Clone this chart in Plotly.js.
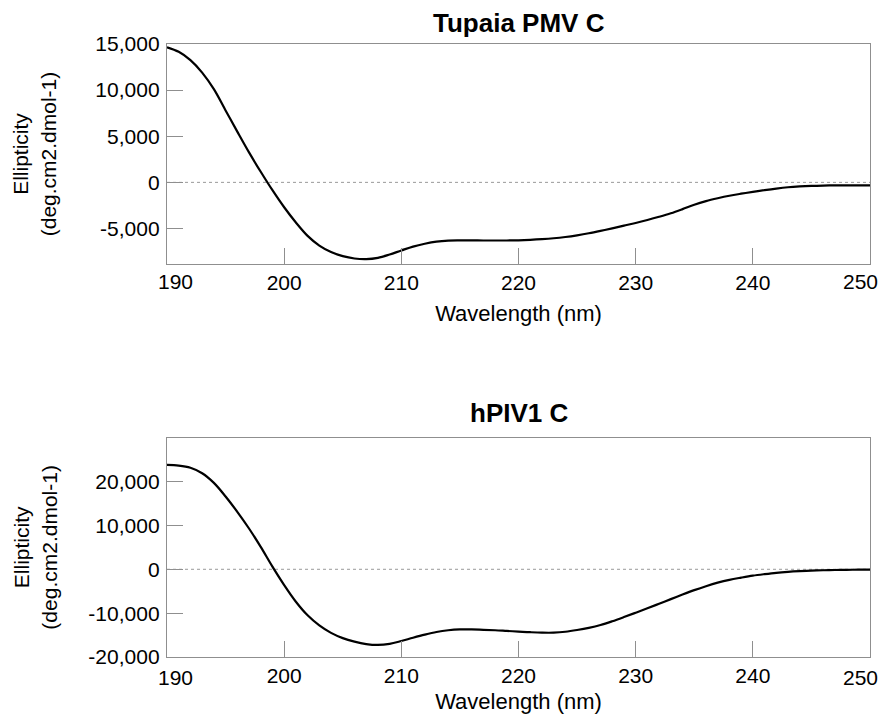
<!DOCTYPE html>
<html>
<head>
<meta charset="utf-8">
<script src="https://cdn.plot.ly/plotly-3.0.1.min.js"></script>
<style>html,body{margin:0;padding:0;background:#fff}#chart{width:883px;height:714px}</style>
</head>
<body>
<div id="chart"></div>
<script>
// Wavelength (nm)
const wavelength = [190,191,192,193,194,195,196,197,198,199,200,201,202,203,204,205,206,207,208,209,210,211,212,213,214,215,216,217,218,219,220,221,222,223,224,225,226,227,228,229,230,231,232,233,234,235,236,237,238,239,240,241,242,243,244,245,246,247,248,249,250];

// Tupaia PMV C ellipticity
const tupaiaValues = [14650,14150,13250,11900,10100,7800,5500,3250,1150,-850,-2700,-4350,-5800,-6850,-7550,-8000,-8250,-8320,-8180,-7820,-7380,-6960,-6650,-6420,-6310,-6290,-6290,-6300,-6300,-6300,-6280,-6230,-6160,-6060,-5920,-5740,-5520,-5260,-4980,-4690,-4400,-4080,-3730,-3350,-2900,-2420,-2030,-1720,-1450,-1230,-1030,-840,-670,-530,-440,-380,-345,-330,-330,-330,-330];

// hPIV1 C ellipticity
const hpivValues = [23800,23650,23150,21900,19700,16600,13100,9300,5100,600,-3600,-7400,-10500,-12800,-14500,-15700,-16500,-17050,-17250,-17000,-16350,-15600,-14900,-14300,-13900,-13700,-13700,-13800,-13900,-14050,-14200,-14350,-14450,-14450,-14250,-13850,-13350,-12700,-11850,-10900,-9900,-8900,-7850,-6800,-5750,-4750,-3850,-3050,-2400,-1900,-1450,-1100,-800,-580,-420,-300,-220,-160,-120,-90,-70];

const xTickVals = [190,200,210,220,230,240,250];
const xTickText = ['190','200','210','220','230','240','250'];
const topYTickVals = [-5000,0,5000,10000,15000];
const topYTickText = ['-5,000','0','5,000','10,000','15,000'];
const botYTickVals = [-20000,-10000,0,10000,20000];
const botYTickText = ['-20,000','-10,000','0','10,000','20,000'];

const titles = ['Tupaia PMV C','hPIV1 C'];
const xTitle = 'Wavelength (nm)';
const yTitle = 'Ellipticity<br>(deg.cm2.dmol-1)';

const FONT = 'Liberation Sans, Arial, sans-serif';
const GRAY = '#8f8f8f';
const TICKFONT = {family:FONT, size:21, color:'#000'};

const traces = [
  {x: wavelength, y: tupaiaValues, xaxis:'x', yaxis:'y', type:'scatter', mode:'lines',
   line:{color:'#000', width:2.2, shape:'spline', smoothing:1}, hoverinfo:'skip'},
  {x: wavelength, y: hpivValues, xaxis:'x2', yaxis:'y2', type:'scatter', mode:'lines',
   line:{color:'#000', width:2.2, shape:'spline', smoothing:1}, hoverinfo:'skip'}
];

const axisCommon = {
  showgrid:false, zeroline:false, showline:true, mirror:true,
  linecolor:GRAY, linewidth:1.2,
  ticks:'inside', tickcolor:GRAY, tickwidth:1.2, ticklen:16,
  tickfont:TICKFONT,
  tickmode:'array'
};

// edge labels (190 and 250) are drawn as annotations, nudged inside the frame as in the reference
const innerTickText = xTickText.map((t, i) => (i === 0 || i === xTickText.length - 1) ? '' : t);

function xAxis(anchor, standoff){
  return Object.assign({}, axisCommon, {
    anchor: anchor, domain:[0,1], range:[190,250],
    tickvals: xTickVals, ticktext: innerTickText,
    title:{text:xTitle, font:{family:FONT, size:22, color:'#000'}, standoff:standoff}
  });
}

function edgeLabel(xref, yref, idx, anchor, xshift, yshift){
  return {text: xTickText[idx], xref: xref, yref: yref, x: xTickVals[idx], y: 0,
    xanchor: anchor, yanchor:'top', xshift: xshift, yshift: yshift, showarrow:false, font: TICKFONT};
}

const layout = {
  width:883, height:714,
  margin:{l:167, r:13, t:44, b:57},
  paper_bgcolor:'#fff', plot_bgcolor:'#fff',
  showlegend:false,
  font:{family:FONT, color:'#000'},
  xaxis: xAxis('y', 12),
  xaxis2: xAxis('y2', 9),
  yaxis: Object.assign({}, axisCommon, {
    anchor:'x', domain:[0.6411,1], range:[-8850,15000],
    tickvals: topYTickVals, ticktext: topYTickText, ticklabelstandoff:2,
    title:{text:yTitle, font:{family:FONT, size:21, color:'#000'}, standoff:33}
  }),
  yaxis2: Object.assign({}, axisCommon, {
    anchor:'x2', domain:[0,0.3577], range:[-20000,30000],
    tickvals: botYTickVals, ticktext: botYTickText, ticklabelstandoff:2,
    title:{text:yTitle, font:{family:FONT, size:21, color:'#000'}, standoff:25}
  }),
  shapes:[
    {type:'line', xref:'x domain', yref:'y', x0:0, x1:1, y0:0, y1:0, line:{color:'#999', width:1, dash:'dot'}, layer:'below'},
    {type:'line', xref:'x2 domain', yref:'y2', x0:0, x1:1, y0:0, y1:0, line:{color:'#999', width:1, dash:'dot'}, layer:'below'}
  ],
  annotations:[
    {text:'<b>'+titles[0]+'</b>', xref:'x domain', yref:'paper', x:0.5, y:1.035, xanchor:'center', yanchor:'middle', showarrow:false, font:{family:FONT, size:26, color:'#000'}},
    {text:'<b>'+titles[1]+'</b>', xref:'x2 domain', yref:'paper', x:0.5, y:0.398, xanchor:'center', yanchor:'middle', showarrow:false, font:{family:FONT, size:26, color:'#000'}},
    edgeLabel('x', 'y domain', 0, 'left', -11, -4),
    edgeLabel('x', 'y domain', xTickVals.length - 1, 'right', 10, -4),
    edgeLabel('x2', 'y2 domain', 0, 'left', -11, -7),
    edgeLabel('x2', 'y2 domain', xTickVals.length - 1, 'right', 10, -7)
  ]
};

Plotly.newPlot('chart', traces, layout, {staticPlot:true, displayModeBar:false});
</script>
</body>
</html>
